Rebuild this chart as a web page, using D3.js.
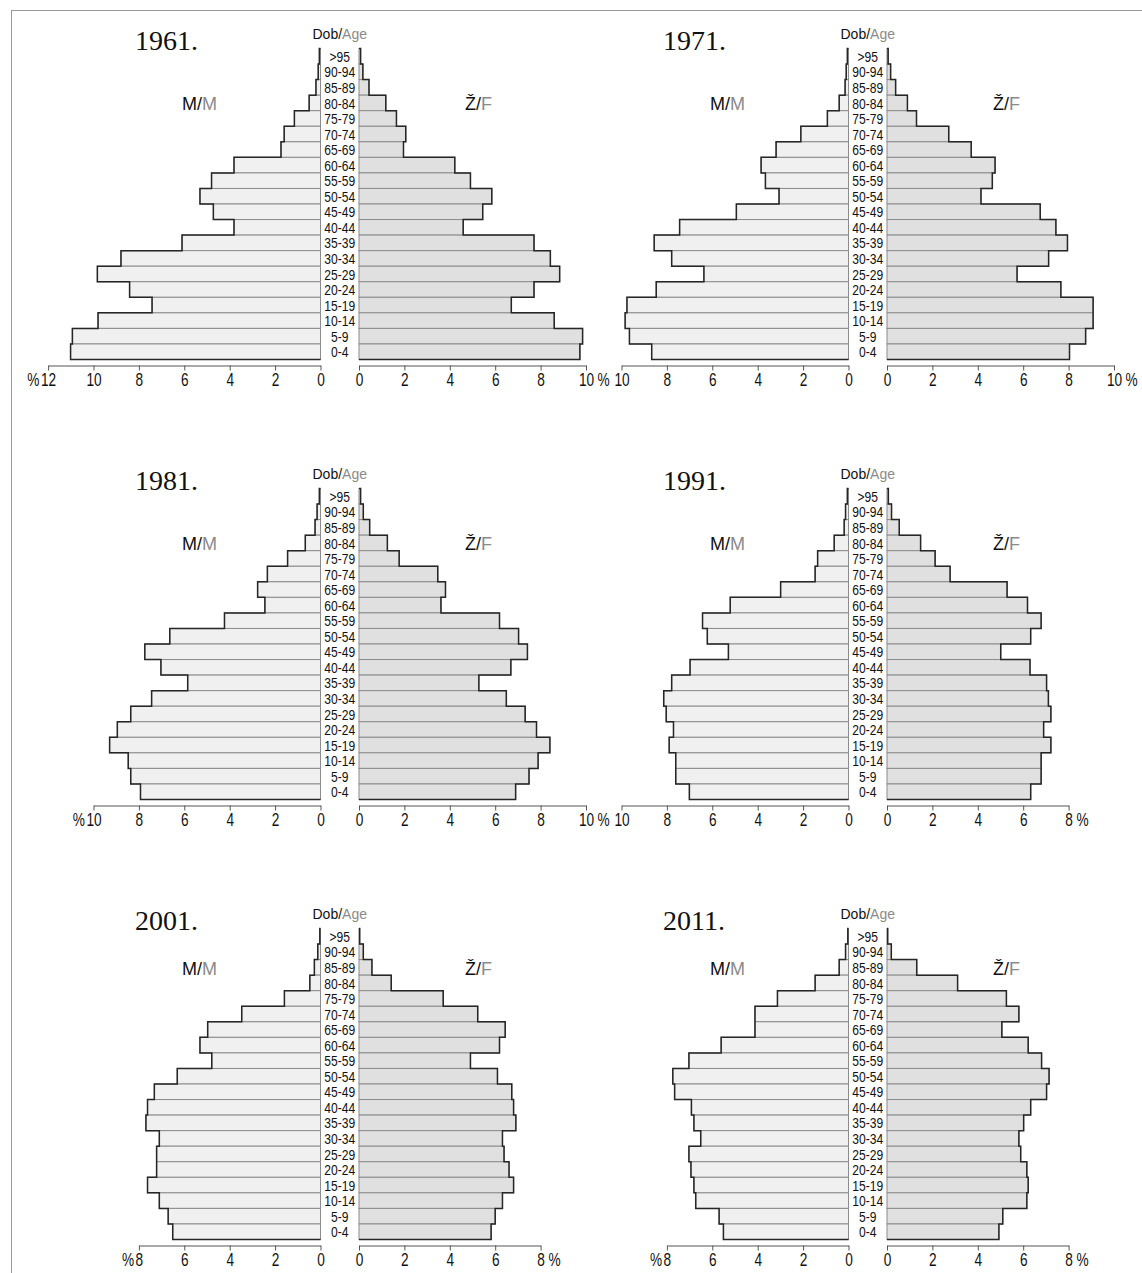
<!DOCTYPE html>
<html>
<head>
<meta charset="utf-8">
<script src="https://cdnjs.cloudflare.com/ajax/libs/d3/7.8.5/d3.min.js"></script>
<style>
  body { margin: 0; background: #fff; }
  svg { display: block; }
  .narrow { font-family: "Liberation Sans", Arial, sans-serif; }
  .sans { font-family: "Liberation Sans", Arial, sans-serif; }
  .serif { font-family: "Liberation Serif", "Times New Roman", serif; }
</style>
</head>
<body>
<div id="container"></div>
<script>
const ageGroups = [">95", "90-94", "85-89", "80-84", "75-79", "70-74", "65-69", "60-64", "55-59", "50-54",
  "45-49", "40-44", "35-39", "30-34", "25-29", "20-24", "15-19", "10-14", "5-9", "0-4"];

const years = ["1961.", "1971.", "1981.", "1991.", "2001.", "2011."];

// % of population, from >95 down to 0-4
const male1961 = [0.05, 0.1, 0.2, 0.5, 1.15, 1.6, 1.74, 3.81, 4.8, 5.31, 4.72, 3.81, 6.1, 8.79, 9.83, 8.41, 7.42, 9.8, 10.93, 11.01];
const female1961 = [0.07, 0.17, 0.44, 1.18, 1.65, 2.06, 1.96, 4.22, 4.91, 5.85, 5.45, 4.59, 7.71, 8.43, 8.84, 7.71, 6.71, 8.6, 9.85, 9.73];
const male1971 = [0.05, 0.1, 0.15, 0.41, 0.93, 2.1, 3.19, 3.85, 3.66, 3.06, 4.94, 7.44, 8.56, 7.79, 6.37, 8.47, 9.76, 9.84, 9.65, 8.67];
const female1971 = [0.05, 0.16, 0.38, 0.9, 1.3, 2.72, 3.71, 4.76, 4.64, 4.14, 6.75, 7.44, 7.95, 7.12, 5.73, 7.66, 9.08, 9.08, 8.75, 8.04];
const male1981 = [0.05, 0.15, 0.24, 0.67, 1.45, 2.34, 2.77, 2.45, 4.23, 6.64, 7.74, 7.03, 5.85, 7.44, 8.36, 8.95, 9.29, 8.47, 8.36, 7.93];
const female1981 = [0.07, 0.19, 0.47, 1.25, 1.77, 3.47, 3.81, 3.61, 6.19, 7.03, 7.42, 6.69, 5.28, 6.49, 7.32, 7.82, 8.41, 7.89, 7.49, 6.9];
const male1991 = [0.05, 0.13, 0.19, 0.63, 1.36, 1.47, 2.99, 5.21, 6.43, 6.22, 5.29, 6.98, 7.79, 8.14, 8.03, 7.71, 7.9, 7.61, 7.61, 7.01];
const female1991 = [0.06, 0.2, 0.54, 1.48, 2.12, 2.78, 5.29, 6.19, 6.79, 6.33, 5.01, 6.3, 7.03, 7.11, 7.22, 6.9, 7.22, 6.79, 6.79, 6.33];
const male2001 = [0.03, 0.12, 0.27, 0.47, 1.59, 3.47, 4.97, 5.31, 4.79, 6.31, 7.32, 7.62, 7.69, 7.1, 7.22, 7.22, 7.62, 7.1, 6.71, 6.51];
const female2001 = [0.03, 0.19, 0.57, 1.42, 3.71, 5.23, 6.44, 6.19, 4.91, 6.1, 6.73, 6.81, 6.91, 6.32, 6.39, 6.61, 6.81, 6.32, 6.0, 5.82];
const male2011 = [0.03, 0.13, 0.41, 1.47, 3.13, 4.12, 4.12, 5.61, 7.03, 7.74, 7.66, 6.92, 6.81, 6.51, 7.03, 6.94, 6.81, 6.73, 5.7, 5.51];
const female2011 = [0.03, 0.19, 1.31, 3.11, 5.26, 5.81, 5.06, 6.22, 6.81, 7.14, 7.03, 6.33, 6.02, 5.81, 5.89, 6.16, 6.22, 6.16, 5.1, 4.93];

// axis extents (%)
const maleMax = [12, 10, 10, 10, 8, 8];
const femaleMax = [10, 10, 10, 8, 8, 8];
const malePercentMark = [true, false, true, false, true, true];

const males = [male1961, male1971, male1981, male1991, male2001, male2011];
const females = [female1961, female1971, female1981, female1991, female2001, female2011];

const width = 1142, height = 1273;
const unit = 22.7;      // px per 1 %
const gap = 38.5;       // label column
const bandsH = 311;
const squeeze = "scale(0.78,1)"; // condensed look, no narrow font installed

const svg = d3.select("#container")
  .append("svg")
  .attr("width", width)
  .attr("height", height);

// frame
svg.append("rect")
  .attr("x", 11.5).attr("y", 10.5)
  .attr("width", 1200).attr("height", 1300)
  .attr("fill", "none")
  .attr("stroke", "#9a9a9a");

function outline(values, x, y) {
  const pts = [[x(0), y(ageGroups[0])]];
  values.forEach((v, i) => {
    pts.push([x(v), y(ageGroups[i])]);
    pts.push([x(v), y(ageGroups[i]) + y.bandwidth()]);
  });
  pts.push([x(0), y(ageGroups[ageGroups.length - 1]) + y.bandwidth()]);
  return d3.line()(pts);
}

years.forEach((year, i) => {
  const col = i % 2, row = Math.floor(i / 2);
  const mZero = 320.5 + col * 528;
  const fZero = mZero + gap;
  const mid = (mZero + fZero) / 2;
  const top = 48.5 + row * 440;
  const g = svg.append("g");

  const y = d3.scaleBand().domain(ageGroups).range([top, top + bandsH]);
  const xm = d3.scaleLinear().domain([0, maleMax[i]]).range([mZero, mZero - maleMax[i] * unit]);
  const xf = d3.scaleLinear().domain([0, femaleMax[i]]).range([fZero, fZero + femaleMax[i] * unit]);

  const data = ageGroups.map((a, k) => ({ age: a, m: males[i][k], f: females[i][k] }));

  // bars
  g.selectAll(".m").data(data).join("rect")
    .attr("x", d => xm(d.m))
    .attr("y", d => y(d.age))
    .attr("width", d => xm(0) - xm(d.m))
    .attr("height", y.bandwidth())
    .attr("fill", "#f0f0f0")
    .attr("stroke", "#8c8c8c")
    .attr("stroke-width", 1);

  g.selectAll(".f").data(data).join("rect")
    .attr("x", xf(0))
    .attr("y", d => y(d.age))
    .attr("width", d => xf(d.f) - xf(0))
    .attr("height", y.bandwidth())
    .attr("fill", "#e0e0e0")
    .attr("stroke", "#8c8c8c")
    .attr("stroke-width", 1);

  // dark outer step outline
  [[males[i], xm], [females[i], xf]].forEach(([vals, x]) => {
    g.append("path")
      .attr("d", outline(vals, x, y))
      .attr("fill", "none")
      .attr("stroke", "#262626")
      .attr("stroke-width", 1.5);
  });

  // age labels
  g.selectAll(".age").data(ageGroups).join("g")
    .attr("transform", d => `translate(${mid},${y(d) + y.bandwidth() / 2})`)
    .append("text")
    .attr("class", "narrow")
    .attr("transform", squeeze)
    .attr("dy", "0.36em")
    .attr("text-anchor", "middle")
    .style("font-size", "15.5px")
    .style("fill", "#111")
    .text(d => d);

  // axes
  const axisY = top + bandsH + 6;
  const axes = [
    [d3.axisBottom(xm).tickValues(d3.range(0, maleMax[i] + 1, 2)), maleMax[i], "m"],
    [d3.axisBottom(xf).tickValues(d3.range(0, femaleMax[i] + 1, 2)), femaleMax[i], "f"]
  ];
  axes.forEach(([axis, max, side]) => {
    const ag = g.append("g")
      .attr("transform", `translate(0,${axisY})`)
      .call(axis.tickSize(5).tickSizeOuter(0).tickPadding(3).tickFormat(d3.format("d")));
    ag.select(".domain").attr("stroke", "#555");
    ag.selectAll(".tick line").attr("stroke", "#555");
    ag.selectAll(".tick text")
      .attr("class", "narrow")
      .attr("transform", squeeze)
      .style("font-size", "17.5px")
      .attr("fill", "#111");

    const endText = ag.selectAll(".tick text").filter(d => d === max).node();
    const w = endText.getComputedTextLength() * 0.78;
    const xEnd = side === "m" ? xm(max) : xf(max);
    if (side === "f" || malePercentMark[i]) {
      ag.append("g")
        .attr("transform", `translate(${side === "m" ? xEnd - w / 2 - 1 : xEnd + w / 2 + 4},0)`)
        .append("text")
        .attr("class", "narrow")
        .attr("transform", squeeze)
        .attr("y", 8)
        .attr("dy", "0.71em")
        .attr("text-anchor", side === "m" ? "end" : "start")
        .style("font-size", "17.5px")
        .attr("fill", "#111")
        .text("%");
    }
  });

  // title
  g.append("text")
    .attr("class", "serif")
    .attr("x", 135 + col * 528)
    .attr("y", 50 + row * 440)
    .style("font-size", "28px")
    .attr("fill", "#111")
    .text(year);

  // Dob/Age
  const dob = g.append("text")
    .attr("class", "sans")
    .attr("x", mid)
    .attr("y", 39 + row * 440)
    .attr("text-anchor", "middle")
    .style("font-size", "14px");
  dob.append("tspan").attr("fill", "#111").text("Dob/");
  dob.append("tspan").attr("fill", "#8a8a8a").text("Age");

  // sex labels
  const sexY = (row === 2 ? 95 : 110) + row * 440;
  const m = g.append("text")
    .attr("class", "sans")
    .attr("x", 182 + col * 528)
    .attr("y", sexY)
    .style("font-size", "18px");
  m.append("tspan").attr("fill", "#111").text("M/");
  m.append("tspan").attr("fill", "#8a8a8a").text("M");

  const f = g.append("text")
    .attr("class", "sans")
    .attr("x", 465 + col * 528)
    .attr("y", sexY)
    .style("font-size", "18px");
  f.append("tspan").attr("fill", "#111").text("Ž/");
  f.append("tspan").attr("fill", "#8a8a8a").text("F");
});
</script>
</body>
</html>
